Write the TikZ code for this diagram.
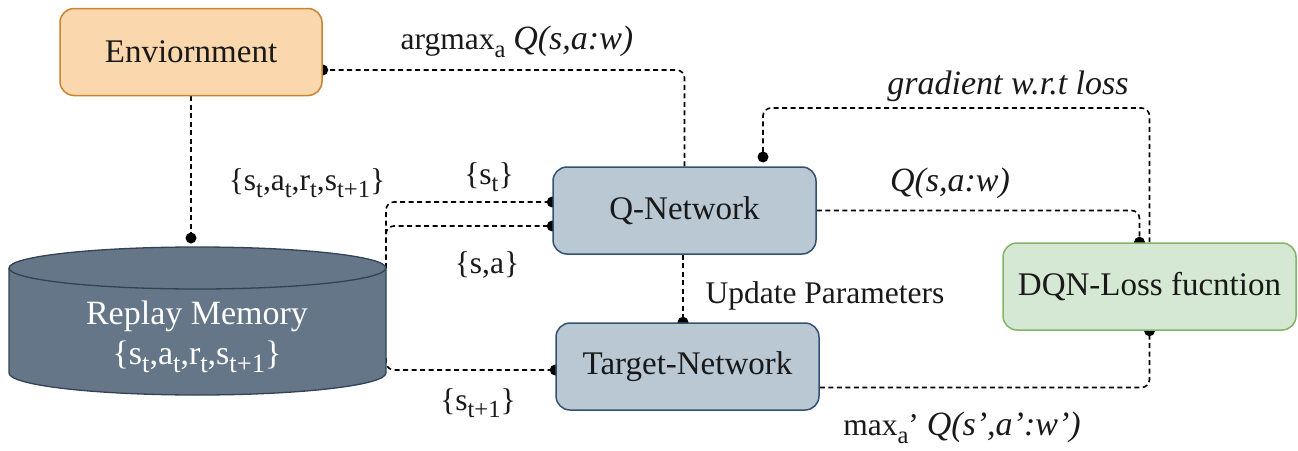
\documentclass[tikz,border=0pt]{standalone}
\usepackage{fontspec}
\usepackage{graphicx}
\setmainfont{Liberation Serif}
\usetikzlibrary{backgrounds,calc}
\definecolor{envfill}{HTML}{FAD7AC}
\definecolor{envdraw}{HTML}{C98432}
\definecolor{netfill}{HTML}{BAC8D3}
\definecolor{netdraw}{HTML}{345171}
\definecolor{lossfill}{HTML}{D5E8D4}
\definecolor{lossdraw}{HTML}{82B366}
\definecolor{memfill}{HTML}{647687}
\definecolor{memdraw}{HTML}{314354}
\newcommand\subx[1]{\raisebox{-0.24em}{\scalebox{0.78}{#1}}}
\newcommand\itq[1]{{\fontsize{34}{40}\selectfont\itshape #1}}
\begin{document}
\begin{tikzpicture}[x=1pt,y=-1pt,
  box/.style={draw, rounded corners=14pt, line width=1.5pt, inner sep=0pt,
    minimum height=87pt, font=\fontsize{33}{40}\selectfont, text=black!90},
  conn/.style={line width=1.6pt, dash pattern=on 5pt off 3.5pt, rounded corners=8pt},
  dot/.style={circle, fill=black, inner sep=0pt, minimum size=11pt},
  lbl/.style={font=\fontsize{31.5}{38}\selectfont, inner sep=0pt, text=black!90},
  memtxt/.style={font=\fontsize{34}{40}\selectfont, inner sep=0pt, text=white}]
\useasboundingbox (0,0) rectangle (1298,450);

% boxes
\node[box, fill=envfill, draw=envdraw, minimum width=262pt] (env) at (191,52) {Enviornment};
\node[box, fill=netfill, draw=netdraw, minimum width=263pt] (qnet) at (684.5,210.5) {Q-Network};
\node[box, fill=netfill, draw=netdraw, minimum width=263pt] (target) at (687.5,366.5) {Target-Network};
\node[box, fill=lossfill, draw=lossdraw, minimum width=293pt] (dqn) at (1149.5,286.5) {DQN-Loss fucntion};

% replay memory cylinder
\fill[memfill] (9,268) -- (9,373) arc[start angle=180, end angle=360, x radius=188.5pt, y radius=22pt] -- (386,268) -- cycle;
\draw[memdraw, line width=1.3pt] (9,268) -- (9,373) arc[start angle=180, end angle=360, x radius=188.5pt, y radius=22pt] -- (386,268);
\filldraw[fill=memfill, draw=memdraw, line width=1.3pt] (197.5,268) ellipse [x radius=188.5pt, y radius=21pt];
\node[memtxt] (memname) at (197,316) {Replay Memory};
\node[memtxt] (memset) at (197,357) {\{s\subx{t},a\subx{t},r\subx{t},s\subx{t+1}\}};
\coordinate (memtop) at (191,238);
\coordinate (memTR) at (386,268);
\coordinate (memR) at (386,358);
\coordinate (gradend) at (763,157);

% labels
\node[lbl] (l1) at (517,42) {argmax\subx{a} \itq{Q(s,a:w)}};
\node[lbl] (l2) at (1008,86) {\itq{gradient w.r.t loss}};
\node[lbl] (l3) at (950,183) {\itq{Q(s,a:w)}};
\node[lbl] (l4) at (825,296) {Update Parameters};
\node[lbl] (l5) at (962,428) {max\subx{a}’ \itq{Q(s’,a’:w’)}};
\node[lbl] (l6) at (307,183) {\{s\subx{t},a\subx{t},r\subx{t},s\subx{t+1}\}};
\node[lbl] (l7) at (489,177) {\{s\subx{t}\}};
\node[lbl] (l8) at (487,265) {\{s,a\}};
\node[lbl] (l9) at (478,403) {\{s\subx{t+1}\}};

\begin{pgfonlayer}{background}
% Q-network -> environment
\draw[conn] (qnet.north) |- ([yshift=-18pt]env.east);
\node[dot] (d1) at ([yshift=-18pt]env.east) {};
% environment -> memory
\draw[conn] (env.south) -- (memtop);
\node[dot] (d2) at (memtop) {};
% memory -> Q-network
\draw[conn] (memTR) |- ([yshift=8.5pt]qnet.west);
\node[dot] (d3) at ([yshift=8.5pt]qnet.west) {};
\draw[conn] (memTR) |- ([yshift=-15.5pt]qnet.west);
\node[dot] (d4) at ([yshift=-15.5pt]qnet.west) {};
% memory -> target
\draw[conn] (memR) |- ([yshift=-3.5pt]target.west);
\node[dot] (d5) at ([yshift=-3.5pt]target.west) {};
% update parameters
\draw[conn] ([xshift=-1.5pt]qnet.south) -- ([xshift=-1.5pt]qnet.south |- target.north);
\node[dot] (d6) at ([xshift=-1.5pt]qnet.south |- target.north) {};
% Q-network -> loss
\draw[conn] (qnet.east) -| ([xshift=-10pt]dqn.north);
\node[dot] (d7) at ([xshift=-10pt]dqn.north) {};
% target -> loss
\draw[conn] ([yshift=-21pt]target.east) -| (dqn.south);
\node[dot] (d8) at (dqn.south) {};
% gradient
\draw[conn] (dqn.north) -- (dqn.north |- 0,108) -| (gradend);
\node[dot] (d9) at (gradend) {};
\end{pgfonlayer}
\end{tikzpicture}
\end{document}
